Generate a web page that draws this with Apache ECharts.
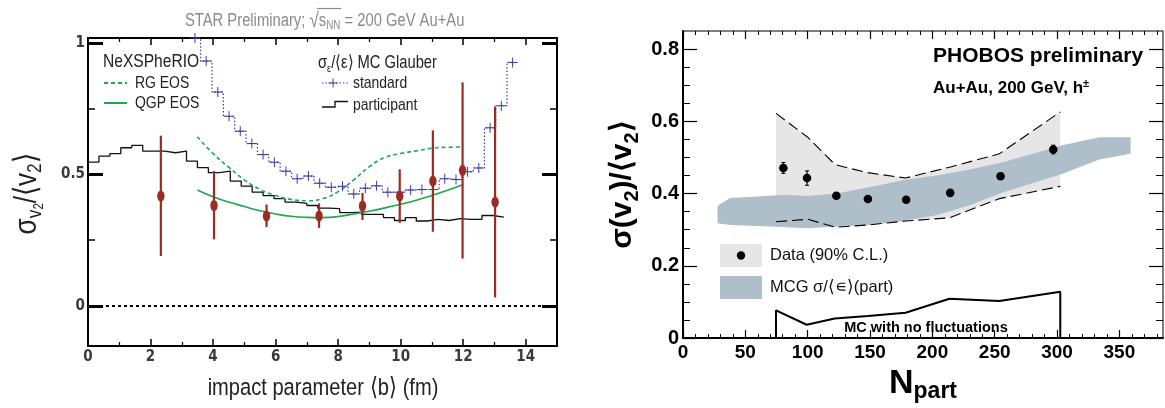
<!DOCTYPE html>
<html><head><meta charset="utf-8">
<script src="https://cdn.jsdelivr.net/npm/echarts@6/dist/echarts.min.js"></script>
<style>html,body{margin:0;padding:0;background:#fff}#c{width:1165px;height:408px}</style>
</head><body><div id="c"></div>
<script>
// ---------- Left panel (STAR) ----------
const starB   = [2.33, 4.03, 5.71, 7.39, 8.78, 9.97, 11.03, 11.98, 13.02];
const starVal = [0.418, 0.382, 0.342, 0.342, 0.380, 0.418, 0.475, 0.516, 0.395];
const starLo  = [0.190, 0.253, 0.300, 0.297, 0.327, 0.316, 0.282, 0.180, 0.032];
const starHi  = [0.648, 0.513, 0.386, 0.390, 0.430, 0.520, 0.668, 0.851, 0.759];

const stdB   = [3.42, 3.78, 4.15, 4.51, 4.87, 5.24, 5.60, 5.96, 6.33, 6.69, 7.05, 7.41, 7.78, 8.14, 8.50, 8.87, 9.23, 9.59, 9.96, 10.32, 10.68, 11.05, 11.41, 11.77, 12.14, 12.50, 12.86, 13.22, 13.58];
const stdVal = [1.020, 0.932, 0.814, 0.722, 0.665, 0.618, 0.576, 0.547, 0.513, 0.484, 0.494, 0.467, 0.452, 0.455, 0.426, 0.448, 0.457, 0.433, 0.433, 0.441, 0.443, 0.443, 0.484, 0.481, 0.511, 0.525, 0.678, 0.762, 0.927];

const partEdges = [0.00, 0.35, 0.70, 1.05, 1.40, 1.75, 2.10, 2.45, 2.80, 3.15, 3.50, 3.85, 4.20, 4.55, 4.90, 5.25, 5.60, 5.95, 6.30, 6.65, 7.00, 7.35, 7.70, 8.05, 8.40, 8.75, 9.10, 9.45, 9.80, 10.15, 10.50, 10.85, 11.20, 11.55, 11.90, 12.25, 12.60, 12.95, 13.30];
const partVal   = [0.547, 0.570, 0.580, 0.602, 0.611, 0.589, 0.589, 0.583, 0.589, 0.551, 0.526, 0.507, 0.513, 0.475, 0.456, 0.433, 0.420, 0.408, 0.395, 0.390, 0.382, 0.372, 0.370, 0.355, 0.357, 0.348, 0.348, 0.336, 0.325, 0.336, 0.323, 0.329, 0.325, 0.332, 0.329, 0.329, 0.344, 0.338];

const eosB   = [3.5, 4.0, 4.5, 5.0, 5.5, 6.0, 6.5, 7.0, 7.5, 8.0, 8.5, 9.0, 9.5, 10.0, 10.5, 11.0, 11.5, 12.0];
const rgVal  = [0.644, 0.580, 0.528, 0.480, 0.443, 0.420, 0.405, 0.400, 0.408, 0.435, 0.480, 0.530, 0.565, 0.580, 0.590, 0.600, 0.604, 0.605];
const qgpVal = [0.441, 0.415, 0.395, 0.378, 0.362, 0.350, 0.341, 0.337, 0.336, 0.340, 0.350, 0.360, 0.373, 0.387, 0.402, 0.420, 0.440, 0.462];

const leftXLabels = [0, 2, 4, 6, 8, 10, 12, 14];
const leftXMinor  = [1, 3, 5, 7, 9, 11, 13];
const leftYLabels = [0, 0.5, 1];
const leftYMinor  = [0.25, 0.75];

// ---------- Right panel (PHOBOS) ----------
const npart    = [80.5, 99.5, 123, 148.3, 179, 214.3, 254.7, 297];
const sigV2    = [0.471, 0.443, 0.394, 0.385, 0.383, 0.402, 0.448, 0.522];
const sigV2Err = [0.015, 0.020, 0.006, 0.006, 0.006, 0.006, 0.006, 0.012];

const clN     = [74.6, 100, 122, 148, 178.5, 213.7, 253.7, 302.6];
const clUpper = [0.622, 0.556, 0.480, 0.458, 0.443, 0.473, 0.510, 0.626];
const clLower = [0.322, 0.329, 0.307, 0.313, 0.324, 0.333, 0.386, 0.420];

const mcgN     = [27.7, 37.8, 69.8, 83.2, 99.2, 123.2, 150, 176.5, 203.2, 229.9, 256.5, 304.5, 333.9, 359];
const mcgUpper = [0.366, 0.388, 0.394, 0.397, 0.393, 0.400, 0.418, 0.437, 0.450, 0.467, 0.487, 0.534, 0.556, 0.556];
const mcgLower = [0.318, 0.313, 0.309, 0.307, 0.304, 0.309, 0.313, 0.324, 0.340, 0.368, 0.403, 0.455, 0.494, 0.510];

const mcN   = [74.6, 99.2, 121.7, 148.3, 178.5, 213.7, 253.7, 302.6];
const mcVal = [0.077, 0.037, 0.054, 0.061, 0.070, 0.109, 0.103, 0.128];

const rightXLabels = [0, 50, 100, 150, 200, 250, 300, 350];
const rightXMinor  = [10, 20, 30, 40, 60, 70, 80, 90, 110, 120, 130, 140, 160, 170, 180, 190, 210, 220, 230, 240, 260, 270, 280, 290, 310, 320, 330, 340, 360, 370, 380];
const rightYLabels = [0, 0.2, 0.4, 0.6, 0.8];
const rightYMinor  = [0.05, 0.1, 0.15, 0.25, 0.3, 0.35, 0.45, 0.5, 0.55, 0.65, 0.7, 0.75];

// ---------- styling ----------
const NARROW = '"DejaVu Sans Condensed","Liberation Sans Narrow",sans-serif';
const SANS = '"Liberation Sans",Arial,Helvetica,sans-serif';
const NSX = 0.82; // horizontal squeeze to mimic Helvetica Narrow
const RED = '#9b2c24', BLUE = '#3a3da5', GREEN = '#1ea650', GRAYT = '#8a8a8a';
const PLUS = 'path://M-1,-10 L1,-10 L1,-1 L10,-1 L10,1 L1,1 L1,10 L-1,10 L-1,1 L-10,1 L-10,-1 L-1,-1 Z';

const mctx = document.createElement('canvas').getContext('2d');
function textW(t, font) { mctx.font = font; return mctx.measureText(t).width; }

function mkAxis(o) {
  return Object.assign({
    gridIndex: o.g, type: 'value', min: o.min, max: o.max, position: o.pos,
    axisLine: { show: !!o.line, onZero: false, lineStyle: { color: '#000', width: o.line || 1 } },
    splitLine: { show: false },
    axisTick: { show: true, inside: true, length: o.len, lineStyle: { color: '#000', width: o.tw || 1 }, customValues: o.ticks },
    axisLabel: o.labels ? Object.assign({ show: true, customValues: o.labels }, o.ls) : { show: false }
  }, o.extra || {});
}

const leftLabelStyle = { fontFamily: NARROW, fontWeight: 'bold', fontSize: 15, color: '#3a3a3a' };
const rightLabelStyle = { fontFamily: SANS, fontWeight: 'bold', fontSize: 19, color: '#000' };

const xAxes = [
  mkAxis({ g: 0, pos: 'bottom', min: 0, max: 15, ticks: leftXLabels, len: 7, tw: 1.5, labels: leftXLabels,
    ls: Object.assign({ margin: 4 }, leftLabelStyle) }),
  mkAxis({ g: 0, pos: 'bottom', min: 0, max: 15, ticks: leftXMinor, len: 4, tw: 1.2 }),
  mkAxis({ g: 0, pos: 'top', min: 0, max: 15, ticks: leftXLabels, len: 7, tw: 1.5 }),
  mkAxis({ g: 0, pos: 'top', min: 0, max: 15, ticks: leftXMinor, len: 4, tw: 1.2 }),
  mkAxis({ g: 1, pos: 'bottom', min: 0, max: 385, ticks: rightXLabels, len: 8, tw: 1.2, line: 2, labels: rightXLabels,
    ls: Object.assign({ margin: 5 }, rightLabelStyle),
    extra: { name: '{n|N}{p|part}', nameLocation: 'middle', nameGap: 24,
      nameTextStyle: { rich: {
        n: { fontFamily: SANS, fontWeight: 'bold', fontSize: 34, lineHeight: 38, color: '#000' },
        p: { fontFamily: SANS, fontWeight: 'bold', fontSize: 23, lineHeight: 26, verticalAlign: 'bottom', color: '#000' } } } } }),
  mkAxis({ g: 1, pos: 'bottom', min: 0, max: 385, ticks: rightXMinor, len: 4, tw: 1 }),
  mkAxis({ g: 1, pos: 'top', min: 0, max: 385, ticks: rightXLabels, len: 8, tw: 1.2 }),
  mkAxis({ g: 1, pos: 'top', min: 0, max: 385, ticks: rightXMinor, len: 4, tw: 1 })
];

const yAxes = [
  mkAxis({ g: 0, pos: 'left', min: -0.153, max: 1.02, ticks: leftYLabels, len: 15, tw: 3, labels: leftYLabels,
    ls: Object.assign({ margin: 3 }, leftLabelStyle) }),
  mkAxis({ g: 0, pos: 'left', min: -0.153, max: 1.02, ticks: leftYMinor, len: 7, tw: 1.5 }),
  mkAxis({ g: 0, pos: 'right', min: -0.153, max: 1.02, ticks: leftYLabels, len: 15, tw: 3 }),
  mkAxis({ g: 0, pos: 'right', min: -0.153, max: 1.02, ticks: leftYMinor, len: 7, tw: 1.5 }),
  mkAxis({ g: 1, pos: 'left', min: 0, max: 0.85, ticks: rightYLabels, len: 14, tw: 1.2, line: 2, labels: rightYLabels,
    ls: Object.assign({ margin: 4 }, rightLabelStyle, { fontSize: 20 }),
    extra: { name: '{m|σ(v}{s|2}{m|)/⟨v}{s|2}{m|⟩}', nameLocation: 'middle', nameGap: 41, nameRotate: 90,
      nameTextStyle: { rich: {
        m: { fontFamily: SANS, fontWeight: 'bold', fontSize: 30, lineHeight: 38, color: '#000' },
        s: { fontFamily: SANS, fontWeight: 'bold', fontSize: 20, lineHeight: 18, verticalAlign: 'bottom', color: '#000' } } } } }),
  mkAxis({ g: 1, pos: 'left', min: 0, max: 0.85, ticks: rightYMinor, len: 7, tw: 1 }),
  mkAxis({ g: 1, pos: 'right', min: 0, max: 0.85, ticks: rightYLabels, len: 14, tw: 1.2 }),
  mkAxis({ g: 1, pos: 'right', min: 0, max: 0.85, ticks: rightYMinor, len: 7, tw: 1 })
];

function bandSeries(name, xs, lo, hi, color, z) {
  return {
    type: 'custom', name: name, xAxisIndex: 4, yAxisIndex: 4, z: z, silent: true,
    data: xs.map((x, i) => [x, lo[i], hi[i]]),
    renderItem: (params, api) => {
      if (params.dataIndex !== 0) return null;
      const pts = [];
      for (let i = 0; i < xs.length; i++) pts.push(api.coord([xs[i], hi[i]]));
      for (let i = xs.length - 1; i >= 0; i--) pts.push(api.coord([xs[i], lo[i]]));
      return { type: 'polygon', shape: { points: pts }, style: { fill: color } };
    }
  };
}

const series = [
  // left panel
  { type: 'line', name: 'participant', xAxisIndex: 0, yAxisIndex: 0, step: 'end', symbol: 'none', z: 3,
    data: partVal.map((v, i) => [partEdges[i], v]).concat([[partEdges[partEdges.length - 1], partVal[partVal.length - 1]]]),
    lineStyle: { color: '#111', width: 1.3 },
    markLine: { silent: true, symbol: 'none', animation: false, label: { show: false },
      lineStyle: { color: '#000', type: [3, 3], width: 2 }, data: [{ yAxis: 0 }] } },
  { type: 'line', name: 'standard', xAxisIndex: 0, yAxisIndex: 0, step: 'middle', z: 4, clip: false,
    data: stdB.map((b, i) => [b, stdVal[i]]), symbol: PLUS, symbolSize: 10, showAllSymbol: true,
    itemStyle: { color: BLUE }, lineStyle: { color: BLUE, width: 1.2, type: [1.5, 2] } },
  { type: 'line', name: 'RG EOS', xAxisIndex: 0, yAxisIndex: 0, smooth: true, symbol: 'none', z: 4,
    data: eosB.map((b, i) => [b, rgVal[i]]), lineStyle: { color: GREEN, width: 1.6, type: [4, 3] } },
  { type: 'line', name: 'QGP EOS', xAxisIndex: 0, yAxisIndex: 0, smooth: true, symbol: 'none', z: 4,
    data: eosB.map((b, i) => [b, qgpVal[i]]), lineStyle: { color: GREEN, width: 1.6 } },
  { type: 'custom', name: 'STAR data', xAxisIndex: 0, yAxisIndex: 0, z: 10,
    data: starB.map((b, i) => [b, starVal[i], starLo[i], starHi[i]]),
    renderItem: (params, api) => {
      const p = api.coord([api.value(0), api.value(1)]);
      const pl = api.coord([api.value(0), api.value(2)]);
      const ph = api.coord([api.value(0), api.value(3)]);
      return { type: 'group', children: [
        { type: 'line', shape: { x1: pl[0], y1: pl[1], x2: ph[0], y2: ph[1] }, style: { stroke: RED, lineWidth: 2.2 } },
        { type: 'circle', x: p[0], y: p[1], scaleY: 1.5, shape: { cx: 0, cy: 0, r: 3.7 }, style: { fill: RED } }
      ] };
    } },
  // right panel
  bandSeries('Data (90% C.L.)', clN, clLower, clUpper, '#e6e6e6', 1),
  bandSeries('MCG', mcgN, mcgLower, mcgUpper, '#aebfca', 2),
  { type: 'line', name: 'CL upper', xAxisIndex: 4, yAxisIndex: 4, symbol: 'none', z: 5,
    data: clN.map((n, i) => [n, clUpper[i]]), lineStyle: { color: '#000', width: 1.1, type: [11, 5] } },
  { type: 'line', name: 'CL lower', xAxisIndex: 4, yAxisIndex: 4, symbol: 'none', z: 5,
    data: clN.map((n, i) => [n, clLower[i]]), lineStyle: { color: '#000', width: 1.1, type: [11, 5] } },
  { type: 'line', name: 'MC with no fluctuations', xAxisIndex: 4, yAxisIndex: 4, symbol: 'none', z: 5,
    data: [[mcN[0], 0]].concat(mcN.map((n, i) => [n, mcVal[i]])).concat([[mcN[mcN.length - 1], 0]]),
    lineStyle: { color: '#000', width: 2 } },
  { type: 'custom', name: 'PHOBOS data', xAxisIndex: 4, yAxisIndex: 4, z: 10,
    data: npart.map((n, i) => [n, sigV2[i], sigV2Err[i]]),
    renderItem: (params, api) => {
      const x = api.value(0), y = api.value(1), e = api.value(2);
      const c = api.coord([x, y]), t = api.coord([x, y + e]), b = api.coord([x, y - e]);
      return { type: 'group', children: [
        { type: 'line', shape: { x1: c[0], y1: t[1], x2: c[0], y2: b[1] }, style: { stroke: '#000', lineWidth: 1.2 } },
        { type: 'line', shape: { x1: c[0] - 2, y1: t[1], x2: c[0] + 2, y2: t[1] }, style: { stroke: '#000', lineWidth: 1 } },
        { type: 'line', shape: { x1: c[0] - 2, y1: b[1], x2: c[0] + 2, y2: b[1] }, style: { stroke: '#000', lineWidth: 1 } },
        { type: 'circle', shape: { cx: c[0], cy: c[1], r: 4.3 }, style: { fill: '#000' } }
      ] };
    } }
];

// narrow (squeezed Liberation Sans) text helper
const NT = (x, y, style, extra) => Object.assign({ type: 'text', x: x, y: y, z: 100, scaleX: NSX,
  style: Object.assign({ fill: '#222', verticalAlign: 'middle', align: 'left' }, style) }, extra || {});
const T = (x, y, text, font, extra) => ({ type: 'text', x: x, y: y, z: 100,
  style: Object.assign({ text: text, font: font, fill: '#222', verticalAlign: 'middle', align: 'left' }, extra || {}) });

// title overline geometry (measured in unsqueezed units)
const tw1 = textW('STAR Preliminary; ', '18px ' + SANS);
const twR = textW('√', '21px ' + SANS);
const twS = textW('s', '18px ' + SANS);
const twN = textW('NN', '12px ' + SANS);

const graphic = [
  // left title
  { type: 'group', x: 185, y: 21, scaleX: NSX, z: 100, children: [
    { type: 'text', x: 0, y: 0, z: 100, style: {
      text: '{t|STAR Preliminary; }{r|√}{t|s}{n|NN}{t| = 200 GeV Au+Au}', verticalAlign: 'middle', align: 'left',
      rich: {
        t: { fontFamily: SANS, fontSize: 18, fill: GRAYT, lineHeight: 22 },
        r: { fontFamily: SANS, fontSize: 21, fill: GRAYT, lineHeight: 22 },
        n: { fontFamily: SANS, fontSize: 12, fill: GRAYT, lineHeight: 14, verticalAlign: 'bottom' } } } },
    { type: 'line', z: 100, shape: { x1: tw1 + twR * 0.8, y1: -12.5, x2: tw1 + twR + twS + twN + 1, y2: -12.5 },
      style: { stroke: GRAYT, lineWidth: 1.2 } }
  ] },
  // left axis titles
  NT(323, 388, { text: 'impact parameter ⟨b⟩ (fm)', font: '24.5px ' + SANS, align: 'center' }),
  NT(27, 194, { text: '{s|σ}{a|v}{b|2}{s|/⟨v}{a|2}{s|⟩}', align: 'center',
    rich: {
      s: { fontFamily: SANS, fontSize: 32, lineHeight: 38, fill: '#222' },
      a: { fontFamily: SANS, fontSize: 21, lineHeight: 16, verticalAlign: 'bottom', fill: '#222' },
      b: { fontFamily: SANS, fontSize: 14, lineHeight: 9, verticalAlign: 'bottom', fill: '#222' } } },
    { rotation: Math.PI / 2 }),
  // left legends
  NT(103, 62, { text: 'NeXSPheRIO', font: '19px ' + SANS }),
  { type: 'line', z: 100, shape: { x1: 104, y1: 83, x2: 127, y2: 83 }, style: { stroke: GREEN, lineWidth: 2, lineDash: [4, 3] } },
  NT(135, 83, { text: 'RG EOS', font: '17px ' + SANS }),
  { type: 'line', z: 100, shape: { x1: 104, y1: 103, x2: 127, y2: 103 }, style: { stroke: GREEN, lineWidth: 2 } },
  NT(135, 103, { text: 'QGP EOS', font: '17px ' + SANS }),
  NT(318, 63, { text: '{m|σ}{s|ε}{m|/⟨ε⟩ MC Glauber}',
    rich: {
      m: { fontFamily: SANS, fontSize: 18, fill: '#222', lineHeight: 22 },
      s: { fontFamily: SANS, fontSize: 11, fill: '#222', lineHeight: 12, verticalAlign: 'bottom' } } }),
  { type: 'line', z: 100, shape: { x1: 322, y1: 83, x2: 348, y2: 83 }, style: { stroke: BLUE, lineWidth: 1.2, lineDash: [1.5, 2] } },
  { type: 'line', z: 100, shape: { x1: 328.5, y1: 83, x2: 337.5, y2: 83 }, style: { stroke: BLUE, lineWidth: 1 } },
  { type: 'line', z: 100, shape: { x1: 333, y1: 78.5, x2: 333, y2: 87.5 }, style: { stroke: BLUE, lineWidth: 1 } },
  NT(353, 83, { text: 'standard', font: '17px ' + SANS }),
  { type: 'polyline', z: 100, shape: { points: [[322, 107], [335, 107], [335, 101.5], [348, 101.5]] }, style: { stroke: '#111', lineWidth: 1.3, fill: null } },
  NT(353, 105, { text: 'participant', font: '17px ' + SANS }),
  // right texts
  T(933, 56, 'PHOBOS preliminary', 'bold 21px ' + SANS, { fill: '#000' }),
  { type: 'text', x: 933, y: 88, z: 100, style: {
      text: '{m|Au+Au, 200 GeV, h}{s|±}', verticalAlign: 'middle', align: 'left',
      rich: {
        m: { fontFamily: SANS, fontWeight: 'bold', fontSize: 17, fill: '#000', lineHeight: 20 },
        s: { fontFamily: SANS, fontWeight: 'bold', fontSize: 11, fill: '#000', lineHeight: 12, verticalAlign: 'top' } } } },
  T(926, 328, 'MC with no fluctuations', 'bold 14.5px ' + SANS, { fill: '#000', align: 'center' }),
  // right legend
  { type: 'rect', z: 100, shape: { x: 720, y: 244, width: 42, height: 23 }, style: { fill: '#e6e6e6' } },
  { type: 'circle', z: 101, shape: { cx: 741, cy: 255.5, r: 4.2 }, style: { fill: '#000' } },
  T(770, 255.5, 'Data (90% C.L.)', '16.5px ' + SANS, { fill: '#111' }),
  { type: 'rect', z: 100, shape: { x: 720, y: 276, width: 42, height: 23 }, style: { fill: '#aebfca' } },
  T(770, 287, 'MCG σ/⟨∊⟩(part)', '16.5px ' + SANS, { fill: '#111' })
];

const chart = echarts.init(document.getElementById('c'), null, { renderer: 'canvas' });
chart.setOption({
  animation: false,
  backgroundColor: '#fff',
  grid: [
    { left: 88, top: 38, width: 469, height: 308, show: true, borderColor: '#000', borderWidth: 2, backgroundColor: 'transparent' },
    { left: 683, top: 31, width: 480, height: 310, show: true, borderColor: '#000', borderWidth: 1, backgroundColor: 'transparent' }
  ],
  xAxis: xAxes,
  yAxis: yAxes,
  series: series,
  graphic: graphic
});
</script>
</body></html>
